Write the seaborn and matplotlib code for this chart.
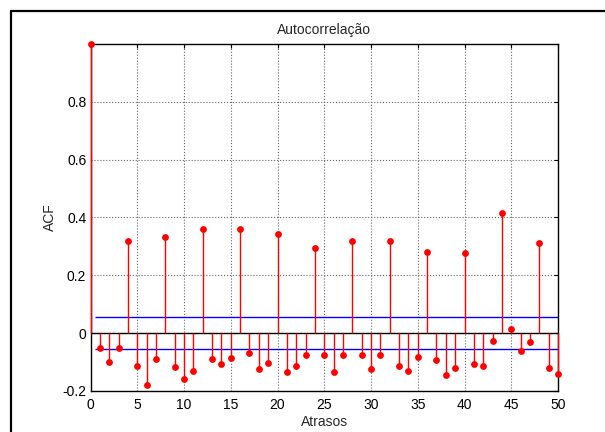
import numpy as np
import pandas as pd
import matplotlib.pyplot as plt
import seaborn as sns

# Dados
lags = list(range(0, 51))
acf = [1.0, -0.050, -0.099, -0.050, 0.318, -0.113, -0.179, -0.089, 0.333, -0.117,
       -0.159, -0.130, 0.361, -0.089, -0.106, -0.085, 0.361, -0.070, -0.124, -0.103,
       0.344, -0.134, -0.113, -0.074, 0.295, -0.077, -0.134, -0.077, 0.318, -0.074,
       -0.124, -0.077, 0.318, -0.113, -0.130, -0.081, 0.280, -0.092, -0.144, -0.120,
       0.277, -0.106, -0.113, -0.026, 0.414, 0.013, -0.061, -0.029, 0.311, -0.120,
       -0.142]
bound = 0.055
xticks = [0, 5, 10, 15, 20, 25, 30, 35, 40, 45, 50]
yticks = [-0.2, 0, 0.2, 0.4, 0.6, 0.8]
yticklabels = ["-0.2", "0", "0.2", "0.4", "0.6", "0.8"]

df = pd.DataFrame({"lag": lags, "acf": acf})

sns.set_style("white")
plt.rcParams['font.family'] = ['Liberation Sans', 'DejaVu Sans']

fig = plt.figure(figsize=(6.05, 4.32), dpi=100)
ax = fig.add_axes([90.5 / 605, 41 / 432, (558 - 90.5) / 605, (391 - 44) / 432])

# grade pontilhada
ax.set_axisbelow(True)
ax.grid(True, linestyle=':', color='#666666', linewidth=0.8)

# bandas de confiança
ax.hlines([bound, -bound], 0.5, 50, color='#0000ff', linewidth=1.0, zorder=2)
# linha de base
ax.axhline(0, color='black', linewidth=1.0, zorder=2)

# hastes + marcadores
ax.vlines(df["lag"], 0, df["acf"], color='red', linewidth=1.0, zorder=3, clip_on=False)
sns.scatterplot(x="lag", y="acf", data=df, color='red', s=24, edgecolor='red',
                linewidth=0, ax=ax, zorder=4, clip_on=False)

ax.set_xlim(0, 50)
ax.set_ylim(-0.2, 1.0)
ax.set_xticks(xticks)
ax.set_yticks(yticks)
ax.set_yticklabels(yticklabels)
ax.tick_params(direction='in', length=3, width=0.8, labelsize=10, colors='black',
               top=True, right=True, pad=3)
ax.tick_params(axis='x', pad=5)
for spine in ax.spines.values():
    spine.set_color('black')
    spine.set_linewidth(1.0)

ax.set_title("Autocorrelação", fontsize=10, pad=7)
ax.set_xlabel("Atrasos", fontsize=10, labelpad=2)
ax.set_ylabel("ACF", fontsize=10, labelpad=4)

# moldura externa (recorte do documento)
fig.add_artist(plt.Line2D([11 / 605, 11 / 605], [0, 1 - 11 / 432], color='black', linewidth=1.6,
                          transform=fig.transFigure))
fig.add_artist(plt.Line2D([11 / 605, 1], [1 - 11 / 432, 1 - 11 / 432], color='black', linewidth=1.6,
                          transform=fig.transFigure))

plt.savefig("out.png", dpi=100, facecolor='white')
